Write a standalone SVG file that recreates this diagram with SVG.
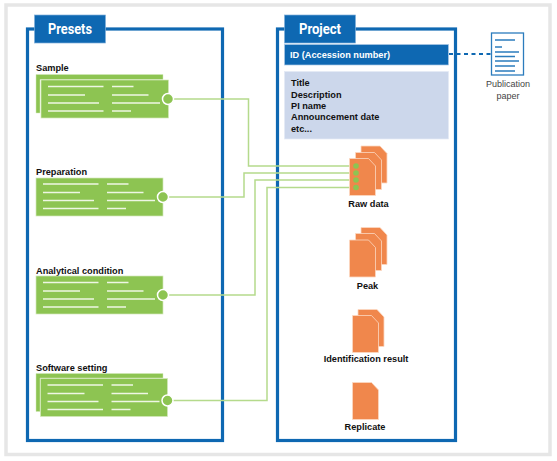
<svg xmlns="http://www.w3.org/2000/svg" width="557" height="461" viewBox="0 0 557 461">
<style>
text{font-family:"Liberation Sans",Arial,sans-serif;font-size:9.200px;font-weight:700;fill:#111}
.tab{fill:#0e68b2;stroke:#7fb0da;stroke-width:.7}
.frame{fill:none;stroke:#0e68b2;stroke-width:3.200}
.tt{font-size:14.500px;fill:#fff;font-family:"Roboto","Liberation Sans",sans-serif;font-weight:700}
.card{fill:#8dc452;stroke:#d3e8bb;stroke-width:.7}
.ln{stroke:#eef6e4;stroke-width:1.300;fill:none}
.pin{fill:#8dc452;stroke:#fff;stroke-width:1.500}
.c{fill:none;stroke:#b5da8c;stroke-width:1.500}
.doc{fill:#f0874c;stroke:#fbd8c2;stroke-width:.8}
.dot{fill:#8dc452}
.pl{stroke:#2b7cbd;stroke-width:1.300;fill:none}
.pub{font-weight:400;fill:#444;font-size:9px}
</style>
<defs>
<g id="lines">
<path class="ln" d="M7 6.500H62.500M71 6.500H92.500M7 15H44M71 15H107.500M7 23H58M71 23H119M7 31H62.500M71 31H90"/>
</g>
<path id="d" class="doc" d="M0.500 0.500H19.500L26.500 8V37.500H0.500Z"/>
</defs>
<rect x="6" y="5" width="544" height="449.500" fill="#fff" stroke="#e6e6e6" stroke-width="3.500"/>
<g id="presets">
<rect class="frame" x="27.500" y="29" width="195" height="411.500"/>
<rect class="tab" x="34.500" y="15" width="71" height="28"/>
<text class="tt" x="48" y="33.500" textLength="44" lengthAdjust="spacingAndGlyphs">Presets</text>
</g>
<g id="project">
<rect class="frame" x="277.500" y="29" width="178" height="411.500"/>
<rect class="tab" x="284.500" y="15" width="71" height="28"/>
<text class="tt" x="299" y="33.500" textLength="42" lengthAdjust="spacingAndGlyphs">Project</text>
</g>
<g id="id-bar">
<rect x="284.500" y="44.500" width="164" height="20.500" fill="#0e68b2" stroke="#a9c8e6" stroke-width=".7"/>
<text x="290" y="58" style="fill:#fff">ID (Accession number)</text>
</g>
<g id="metadata">
<rect x="284.500" y="71.500" width="164" height="67.500" fill="#ccd7eb" stroke="#e4eaf5" stroke-width=".7"/>
<text x="291" y="86">Title</text>
<text x="291" y="97.500">Description</text>
<text x="291" y="109">PI name</text>
<text x="291" y="120">Announcement date</text>
<text x="291" y="131.500">etc...</text>
</g>
<g id="connectors">
<path class="c" d="M173 99H248.500V166H350"/>
<path class="c" d="M168 197H244V173H350"/>
<path class="c" d="M168 295H255V180H350"/>
<path class="c" d="M173 400.500H267V187.500H350"/>
<path d="M449 54H492" fill="none" stroke="#0e68b2" stroke-width="2" stroke-dasharray="4 3.500"/>
</g>
<g id="sample">
<text x="36" y="71">Sample</text>
<path d="M36 74.500H163V79.500H40V113H36Z" fill="#8dc452" stroke="#d3e8bb" stroke-width=".5"/>
<rect class="card" x="41" y="80" width="127.500" height="38"/>
<use href="#lines" x="41" y="80"/>
<circle class="pin" cx="168" cy="99" r="5.500"/>
</g>
<g id="preparation">
<text x="36" y="175">Preparation</text>
<rect class="card" x="36" y="178" width="127" height="38"/>
<use href="#lines" x="36" y="177.500"/>
<circle class="pin" cx="163" cy="197" r="5.500"/>
</g>
<g id="analytical">
<text x="36" y="274">Analytical condition</text>
<rect class="card" x="36" y="276" width="127" height="38"/>
<use href="#lines" x="36" y="276"/>
<circle class="pin" cx="163" cy="295" r="5.500"/>
</g>
<g id="software">
<text x="36" y="371">Software setting</text>
<path d="M36 373.500H163V378H40V411.500H36Z" fill="#8dc452" stroke="#d3e8bb" stroke-width=".5"/>
<rect class="card" x="40.500" y="378.500" width="127" height="38"/>
<use href="#lines" x="40.500" y="378.500"/>
<circle class="pin" cx="167.500" cy="400.500" r="5.500"/>
</g>
<g id="raw-data">
<use href="#d" x="360.500" y="145.500"/><use href="#d" x="355" y="152"/><use href="#d" x="349" y="158"/>
<circle class="dot" cx="356" cy="166" r="2.800"/><circle class="dot" cx="356" cy="173" r="2.800"/><circle class="dot" cx="356" cy="180" r="2.800"/><circle class="dot" cx="356" cy="187.500" r="2.800"/>
<text x="368.500" y="207" text-anchor="middle">Raw data</text>
</g>
<g id="peak">
<use href="#d" x="360.500" y="227"/><use href="#d" x="355" y="233"/><use href="#d" x="349" y="239.500"/>
<text x="367.500" y="289" text-anchor="middle">Peak</text>
</g>
<g id="identification">
<use href="#d" x="357.500" y="309"/><use href="#d" x="352" y="315"/>
<text x="366" y="362" text-anchor="middle">Identification result</text>
</g>
<g id="replicate">
<use href="#d" x="352" y="382"/>
<text x="365" y="430" text-anchor="middle">Replicate</text>
</g>
<g id="publication">
<rect x="491.500" y="33" width="32" height="42" fill="#fff" stroke="#2b7cbd" stroke-width="1.300"/>
<path class="pl" d="M495 40H515M495 47H502M495 52H519M495 56.500H515M495 61H519M495 66H515M495 71H515"/>
<text class="pub" x="508" y="87" text-anchor="middle">Publication</text>
<text class="pub" x="508" y="99" text-anchor="middle">paper</text>
</g>
</svg>
